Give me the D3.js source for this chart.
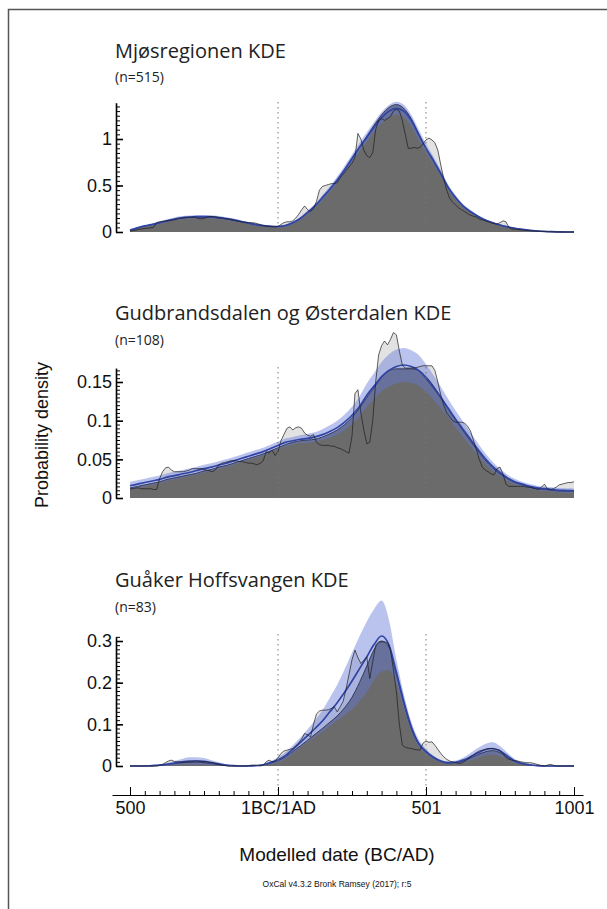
<!DOCTYPE html>
<html>
<head>
<meta charset="utf-8">
<script src="https://cdn.jsdelivr.net/npm/d3@7"></script>
<style>
  body { margin: 0; background: #fff; }
  svg { display: block; }
  .tick text { font-family: Arial, "Liberation Sans", sans-serif; fill: #111; }
  .title { font-family: "Open Sans", sans-serif; fill: #222; }
</style>
</head>
<body>
<div id="chart"></div>
<script>
// year grids (BC negative)
let kdeYears = d3.range(-500, 1001, 25);
let sumYears = d3.range(-500, 1001, 10);

let xTickYears = [-500, 0, 500, 1000];
let xTickLabels = ["500", "1BC/1AD", "501", "1001"];

// Mjøsregionen
let mjosTicks = [0, 0.5, 1];
let mjosMean = [0.02,0.045,0.065,0.08,0.10,0.12,0.14,0.153,0.16,0.165,
  0.166,0.163,0.155,0.143,0.13,0.113,0.095,0.08,0.068,0.06,
  0.058,0.07,0.10,0.145,0.21,0.28,0.37,0.46,0.56,0.67,
  0.79,0.91,1.02,1.13,1.23,1.30,1.33,1.30,1.20,1.05,
  0.90,0.77,0.63,0.48,0.37,0.28,0.22,0.17,0.13,0.10,
  0.075,0.055,0.04,0.028,0.018,0.011,0.006,0.003,0.001,0,
  0];
let mjosKde = [0.02,0.045,0.065,0.082,0.10,0.12,0.138,0.15,0.157,0.16,
  0.16,0.158,0.15,0.14,0.127,0.11,0.094,0.08,0.068,0.06,
  0.058,0.07,0.10,0.145,0.21,0.28,0.37,0.46,0.56,0.67,
  0.79,0.91,1.03,1.15,1.26,1.34,1.37,1.33,1.22,1.06,
  0.90,0.76,0.62,0.48,0.37,0.28,0.22,0.17,0.13,0.10,
  0.075,0.055,0.04,0.028,0.018,0.011,0.006,0.003,0.001,0,
  0];
let mjosSd = [0.008,0.01,0.012,0.014,0.015,0.016,0.017,0.018,0.018,0.018,
  0.018,0.018,0.017,0.016,0.015,0.014,0.012,0.011,0.01,0.01,
  0.01,0.011,0.013,0.016,0.02,0.024,0.028,0.032,0.036,0.04,
  0.044,0.048,0.052,0.056,0.06,0.065,0.07,0.068,0.062,0.055,
  0.048,0.042,0.036,0.03,0.025,0.02,0.016,0.013,0.011,0.009,
  0.008,0.007,0.006,0.005,0.004,0.003,0.002,0.001,0.001,0,
  0];
let mjosSum = [0.01,0.015,0.02,0.028,0.033,0.038,0.042,0.045,0.05,0.10,
  0.11,0.115,0.118,0.12,0.125,0.13,0.14,0.148,0.152,0.155,
  0.158,0.16,0.16,0.145,0.143,0.145,0.16,0.168,0.165,0.163,
  0.155,0.15,0.145,0.14,0.133,0.127,0.12,0.113,0.108,0.103,
  0.10,0.10,0.098,0.09,0.08,0.07,0.063,0.06,0.058,0.057,
  0.06,0.08,0.10,0.11,0.11,0.12,0.15,0.19,0.24,0.28,
  0.24,0.22,0.25,0.33,0.45,0.49,0.50,0.51,0.52,0.52,
  0.53,0.58,0.62,0.66,0.70,0.74,0.80,1.06,1.0,0.88,
  0.82,0.80,0.85,1.10,1.20,1.22,1.20,1.22,1.24,1.30,
  1.32,1.30,1.20,1.05,0.90,0.90,0.91,0.90,0.91,0.95,
  0.99,1.01,0.99,0.96,0.88,0.72,0.57,0.45,0.36,0.32,
  0.29,0.26,0.24,0.22,0.20,0.18,0.17,0.16,0.14,0.13,
  0.12,0.11,0.10,0.09,0.085,0.10,0.12,0.11,0.05,0.03,
  0.03,0.025,0.022,0.02,0.018,0.015,0.012,0.01,0.008,0.006,
  0.005,0.004,0.003,0.002,0.001,0,0,0,0,0,
  0];

// Gudbrandsdalen og Østerdalen
let gudTicks = [0, 0.05, 0.1, 0.15];
let gudMean = [0.0158,0.018,0.020,0.022,0.024,0.027,0.029,0.031,0.033,0.0355,
  0.038,0.040,0.0425,0.045,0.048,0.051,0.054,0.057,0.060,0.064,
  0.068,0.072,0.074,0.076,0.077,0.079,0.082,0.086,0.091,0.098,
  0.107,0.118,0.133,0.145,0.157,0.165,0.170,0.172,0.170,0.165,
  0.155,0.143,0.130,0.116,0.102,0.089,0.076,0.063,0.051,0.041,
  0.033,0.026,0.021,0.018,0.015,0.013,0.012,0.011,0.010,0.0097,
  0.0094];
let gudKde = [0.013,0.015,0.017,0.019,0.021,0.024,0.026,0.028,0.030,0.032,
  0.035,0.037,0.040,0.042,0.045,0.048,0.051,0.054,0.057,0.061,
  0.065,0.069,0.072,0.074,0.075,0.076,0.079,0.083,0.088,0.095,
  0.104,0.116,0.130,0.143,0.156,0.165,0.167,0.167,0.167,0.165,
  0.157,0.145,0.131,0.116,0.101,0.087,0.074,0.061,0.049,0.039,
  0.031,0.025,0.020,0.017,0.014,0.012,0.011,0.010,0.009,0.009,
  0.009];
let gudSd = [0.005,0.005,0.005,0.005,0.005,0.005,0.005,0.005,0.005,0.005,
  0.005,0.005,0.005,0.005,0.005,0.005,0.005,0.005,0.005,0.005,
  0.005,0.005,0.005,0.005,0.006,0.006,0.007,0.008,0.009,0.010,
  0.011,0.013,0.015,0.017,0.019,0.021,0.022,0.022,0.021,0.020,
  0.018,0.016,0.014,0.012,0.011,0.010,0.009,0.008,0.007,0.006,
  0.005,0.004,0.004,0.003,0.003,0.003,0.003,0.003,0.003,0.003,
  0.003];
let gudSum = [0.012,0.012,0.013,0.013,0.012,0.012,0.012,0.012,0.011,0.011,
  0.025,0.034,0.039,0.040,0.036,0.034,0.034,0.034,0.034,0.035,
  0.036,0.038,0.038,0.038,0.038,0.037,0.036,0.035,0.034,0.037,
  0.043,0.045,0.046,0.047,0.048,0.048,0.048,0.047,0.047,0.046,
  0.045,0.045,0.044,0.043,0.045,0.048,0.06,0.058,0.062,0.055,
  0.06,0.074,0.082,0.09,0.092,0.088,0.091,0.092,0.09,0.084,
  0.081,0.08,0.082,0.072,0.069,0.068,0.068,0.068,0.067,0.067,
  0.065,0.064,0.062,0.06,0.058,0.08,0.135,0.14,0.11,0.088,
  0.07,0.072,0.1,0.15,0.185,0.197,0.203,0.198,0.205,0.214,
  0.211,0.19,0.172,0.168,0.168,0.168,0.168,0.169,0.17,0.171,
  0.171,0.171,0.171,0.165,0.15,0.133,0.12,0.11,0.105,0.1,
  0.098,0.098,0.098,0.097,0.093,0.087,0.075,0.063,0.05,0.04,
  0.036,0.034,0.031,0.03,0.038,0.04,0.031,0.018,0.015,0.015,
  0.015,0.015,0.015,0.015,0.014,0.014,0.013,0.012,0.011,0.014,
  0.018,0.012,0.011,0.012,0.014,0.017,0.018,0.019,0.02,0.02,
  0.021];

// Guåker Hoffsvangen
let guaTicks = [0, 0.1, 0.2, 0.3];
let guaMean = [0,0,0,0.001,0.002,0.004,0.007,0.010,0.012,0.012,
  0.011,0.008,0.005,0.002,0.001,0,0,0.001,0.003,0.008,
  0.015,0.025,0.040,0.056,0.073,0.090,0.108,0.130,0.152,0.177,
  0.204,0.233,0.262,0.292,0.312,0.290,0.225,0.155,0.095,0.055,
  0.035,0.021,0.012,0.008,0.009,0.014,0.022,0.031,0.039,0.042,
  0.036,0.024,0.012,0.006,0.003,0.001,0,0,0,0,
  0];
let guaKde = [0,0,0,0,0.002,0.004,0.006,0.008,0.009,0.009,
  0.008,0.006,0.003,0.001,0,0,0,0.001,0.003,0.007,
  0.013,0.022,0.035,0.048,0.062,0.076,0.09,0.105,0.12,0.14,
  0.165,0.2,0.24,0.28,0.30,0.285,0.22,0.15,0.09,0.052,
  0.033,0.02,0.011,0.007,0.008,0.012,0.019,0.027,0.034,0.037,
  0.032,0.021,0.011,0.005,0.002,0.001,0,0,0,0,
  0];
let guaSd = [0.0005,0.0005,0.0005,0.0005,0.002,0.003,0.005,0.007,0.009,0.009,
  0.008,0.006,0.004,0.002,0.001,0.001,0.001,0.001,0.002,0.004,
  0.006,0.008,0.01,0.012,0.015,0.02,0.026,0.034,0.043,0.055,
  0.068,0.078,0.085,0.085,0.085,0.06,0.03,0.018,0.012,0.009,
  0.006,0.004,0.003,0.003,0.004,0.006,0.009,0.012,0.014,0.015,
  0.012,0.008,0.005,0.003,0.002,0.001,0,0,0,0,
  0];
let guaSum = [0,0,0,0,0,0,0,0,0,0,
  0.001,0.004,0.008,0.012,0.014,0.011,0.01,0.009,0.009,0.01,
  0.01,0.011,0.012,0.012,0.011,0.01,0.01,0.009,0.008,0.006,
  0.004,0.002,0.001,0,0,0,0,0,0,0,
  0.001,0.002,0.002,0.001,0,0.002,0.01,0.014,0.01,0.012,
  0.02,0.03,0.036,0.038,0.04,0.042,0.048,0.056,0.065,0.078,
  0.075,0.07,0.1,0.125,0.132,0.134,0.134,0.135,0.138,0.142,
  0.13,0.142,0.155,0.185,0.22,0.255,0.278,0.26,0.246,0.254,
  0.262,0.21,0.25,0.29,0.298,0.298,0.298,0.296,0.28,0.23,
  0.178,0.1,0.05,0.045,0.043,0.042,0.04,0.039,0.038,0.055,
  0.06,0.057,0.058,0.05,0.04,0.03,0.022,0.016,0.012,0.01,
  0.008,0.006,0.007,0.011,0.016,0.022,0.027,0.032,0.036,0.038,
  0.04,0.042,0.042,0.041,0.04,0.038,0.03,0.02,0.016,0.014,
  0.013,0.012,0.01,0.009,0.008,0.008,0.007,0.005,0.003,0.001,
  0,0.002,0.004,0.002,0,0,0,0,0,0,
  0];

let width = 607;
let height = 909;

let svg = d3.select("#chart").append("svg")
  .attr("width", width)
  .attr("height", height);

// frame around the whole figure
svg.append("rect")
  .attr("x", 8.5).attr("y", 9.5)
  .attr("width", 700).attr("height", 1000)
  .attr("fill", "none")
  .attr("stroke", "#555")
  .attr("stroke-width", 1.5);

let xScale = d3.scaleLinear().domain([-500, 1000]).range([130, 574]);

// panel layout: y0 = pixel of zero, yRef = pixel of the last major tick
let panels = [
  { title: "Mjøsregionen KDE", n: "(n=515)", ticks: mjosTicks, minor: 0.05, top: 1.39,
    mean: mjosMean, kde: mjosKde, sd: mjosSd, sum: mjosSum,
    y0: 232, yRef: 139, titleY: 58, nY: 82, dotTop: 102, dotBottom: 232 },
  { title: "Gudbrandsdalen og Østerdalen KDE", n: "(n=108)", ticks: gudTicks, minor: 0.005, top: 0.168,
    mean: gudMean, kde: gudKde, sd: gudSd, sum: gudSum,
    y0: 498, yRef: 382, titleY: 320, nY: 345, dotTop: 367, dotBottom: 498 },
  { title: "Guåker Hoffsvangen KDE", n: "(n=83)", ticks: guaTicks, minor: 0.01, top: 0.31,
    mean: guaMean, kde: guaKde, sd: guaSd, sum: guaSum,
    y0: 766, yRef: 641, titleY: 587, nY: 612, dotTop: 634, dotBottom: 795 }
];

let fmt = function(d) { return d === 0 ? "0" : String(+d.toFixed(3)); };

panels.forEach(function(p) {
  let last = p.ticks[p.ticks.length - 1];
  let yScale = d3.scaleLinear().domain([0, last]).range([p.y0, p.yRef]);
  let g = svg.append("g");

  let sumPts = sumYears.map(function(yr, i) { return [yr, p.sum[i]]; });
  let kdePts = kdeYears.map(function(yr, i) {
    return { yr: yr, kde: p.kde[i], mean: p.mean[i], sd: p.sd[i] };
  });

  // unmodelled sum (light grey)
  g.append("path").datum(sumPts)
    .attr("fill", "#e2e2e2")
    .attr("d", d3.area()
      .x(function(d) { return xScale(d[0]); })
      .y0(p.y0)
      .y1(function(d) { return yScale(d[1]); }));

  // KDE distribution (dark grey)
  g.append("path").datum(kdePts)
    .attr("fill", "#6b6b6b")
    .attr("d", d3.area().curve(d3.curveMonotoneX)
      .x(function(d) { return xScale(d.yr); })
      .y0(p.y0)
      .y1(function(d) { return yScale(d.kde); }));

  // mean +/- 1 sd band
  g.append("path").datum(kdePts)
    .attr("fill", "rgba(100,122,215,0.45)")
    .attr("d", d3.area().curve(d3.curveMonotoneX)
      .x(function(d) { return xScale(d.yr); })
      .y0(function(d) { return yScale(Math.max(0, d.mean - d.sd)); })
      .y1(function(d) { return yScale(d.mean + d.sd); }));

  // outline of the KDE distribution
  g.append("path").datum(kdePts)
    .attr("fill", "none")
    .attr("stroke", "#2b3055")
    .attr("stroke-width", 0.9)
    .attr("d", d3.line().curve(d3.curveMonotoneX)
      .x(function(d) { return xScale(d.yr); })
      .y(function(d) { return yScale(d.kde); }));

  // mean KDE (blue)
  g.append("path").datum(kdePts)
    .attr("fill", "none")
    .attr("stroke", "#3044a6")
    .attr("stroke-width", 1.7)
    .attr("d", d3.line().curve(d3.curveMonotoneX)
      .x(function(d) { return xScale(d.yr); })
      .y(function(d) { return yScale(d.mean); }));

  // outline of the sum
  g.append("path").datum(sumPts)
    .attr("fill", "none")
    .attr("stroke", "#1c1c1c")
    .attr("stroke-width", 0.7)
    .attr("d", d3.line()
      .x(function(d) { return xScale(d[0]); })
      .y(function(d) { return yScale(d[1]); }));

  // dotted reference lines at 1AD and 501
  [0, 500].forEach(function(yr) {
    g.append("line")
      .attr("x1", xScale(yr)).attr("x2", xScale(yr))
      .attr("y1", p.dotTop).attr("y2", p.dotBottom)
      .attr("stroke", "#777")
      .attr("stroke-width", 1)
      .attr("stroke-dasharray", "1.5,3.5");
  });

  // y axis: line at x=116, ticks pointing right
  let axisScale = d3.scaleLinear().domain([0, p.top]).range([p.y0, yScale(p.top)]);
  let minorVals = d3.range(0, p.top + 1e-9, p.minor);
  g.append("g")
    .attr("transform", "translate(116,0)")
    .call(d3.axisLeft(axisScale).tickValues(minorVals).tickSize(-4).tickSizeOuter(0).tickFormat(""))
    .call(function(a) { a.select(".domain").attr("stroke-width", 1.6); });
  g.append("g")
    .attr("transform", "translate(116,0)")
    .call(d3.axisLeft(axisScale).tickValues(p.ticks).tickSize(-7).tickSizeOuter(0).tickPadding(4).tickFormat(fmt))
    .call(function(a) {
      a.select(".domain").remove();
      a.selectAll(".tick line").attr("stroke-width", 1.6);
      a.selectAll(".tick text").attr("font-size", 18);
    });

  // titles
  svg.append("text").attr("class", "title")
    .attr("x", 115).attr("y", p.titleY)
    .attr("font-size", 20)
    .text(p.title);
  svg.append("text").attr("class", "title")
    .attr("x", 115).attr("y", p.nY)
    .attr("font-size", 14)
    .text(p.n);
});

// x axis
let xAxisScale = d3.scaleLinear()
  .domain([xScale.invert(112), xScale.invert(583)])
  .range([112, 583]);
let xAxisY = 795;
svg.append("g")
  .attr("transform", "translate(0," + xAxisY + ")")
  .call(d3.axisBottom(xAxisScale).tickValues(d3.range(-450, 1000, 50)).tickSize(-4).tickSizeOuter(0).tickFormat(""));
svg.append("g")
  .attr("transform", "translate(0," + xAxisY + ")")
  .call(d3.axisBottom(xAxisScale).tickValues(xTickYears).tickSize(-8).tickSizeOuter(0).tickPadding(6)
    .tickFormat(function(d, i) { return xTickLabels[i]; }))
  .call(function(a) {
    a.select(".domain").remove();
    a.selectAll(".tick text").attr("font-size", 18);
  });

// axis titles
svg.append("text")
  .attr("transform", "translate(48,435)rotate(-90)")
  .attr("text-anchor", "middle")
  .attr("font-family", "Arial, 'Liberation Sans', sans-serif")
  .attr("font-size", 18)
  .attr("fill", "#111")
  .text("Probability density");

svg.append("text")
  .attr("x", 337).attr("y", 861)
  .attr("text-anchor", "middle")
  .attr("font-family", "Arial, 'Liberation Sans', sans-serif")
  .attr("font-size", 19)
  .attr("fill", "#111")
  .text("Modelled date (BC/AD)");

svg.append("text")
  .attr("x", 337).attr("y", 887)
  .attr("text-anchor", "middle")
  .attr("font-family", "Arial, 'Liberation Sans', sans-serif")
  .attr("font-size", 8.5)
  .attr("fill", "#111")
  .text("OxCal v4.3.2 Bronk Ramsey (2017); r:5");
</script>
</body>
</html>
